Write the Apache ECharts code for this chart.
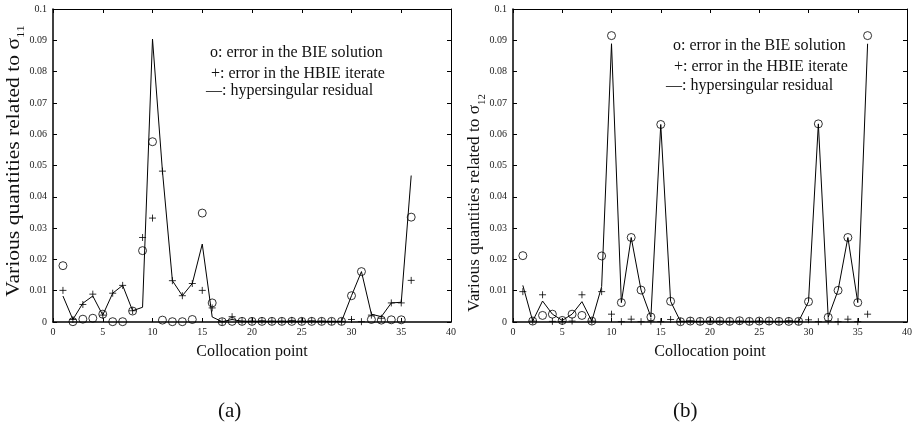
<html>
<head>
<meta charset="utf-8">
<title>ECharts</title>
</head>
<body style="margin:0">
<div id="main" style="width: 915px;height:431px;"></div>
<script src="https://cdn.jsdelivr.net/npm/echarts@6/dist/echarts.min.js"></script>
<script>
// collocation points 1..36
var points = [1,2,3,4,5,6,7,8,9,10,11,12,13,14,15,16,17,18,19,20,21,22,23,24,25,26,27,28,29,30,31,32,33,34,35,36];

// (a) sigma_11
var bie11 = [0.0180, 0.0001, 0.0009, 0.0012, 0.0025, 0.0001, 0.0001, 0.0035, 0.0228, 0.0576, 0.0006, 0.0001, 0.0001, 0.0008, 0.0348, 0.0061, 0.0001, 0.0002, 0.0002, 0.0002, 0.0002, 0.0002, 0.0002, 0.0002, 0.0002, 0.0002, 0.0002, 0.0002, 0.0002, 0.0084, 0.0161, 0.0008, 0.0006, 0.0007, 0.0007, 0.0335];
var hbie11 = [0.0101, 0.0008, 0.0056, 0.0089, 0.0022, 0.0092, 0.0117, 0.0036, 0.0270, 0.0332, 0.0482, 0.0132, 0.0084, 0.0123, 0.0101, 0.0045, 0.0001, 0.0017, 0.0003, 0.0003, 0.0004, 0.0003, 0.0003, 0.0005, 0.0003, 0.0004, 0.0003, 0.0002, 0.0002, 0.0008, 0.0001, 0.0022, 0.0012, 0.0061, 0.0061, 0.0133];
var res11 = [0.0083, 0.0008, 0.0060, 0.0083, 0.0022, 0.0092, 0.0117, 0.0036, 0.0047, 0.0904, 0.0482, 0.0132, 0.0084, 0.0123, 0.0249, 0.0016, 0.0001, 0.0008, 0.0002, 0.0002, 0.0002, 0.0002, 0.0002, 0.0002, 0.0002, 0.0002, 0.0002, 0.0002, 0.0002, 0.0084, 0.0161, 0.0025, 0.0017, 0.0061, 0.0063, 0.0468];

// (b) sigma_12
var bie12 = [0.0212, 0.0003, 0.0021, 0.0025, 0.0005, 0.0025, 0.0021, 0.0003, 0.0211, 0.0915, 0.0062, 0.0270, 0.0102, 0.0016, 0.0631, 0.0066, 0.0001, 0.0003, 0.0002, 0.0004, 0.0003, 0.0002, 0.0004, 0.0002, 0.0003, 0.0003, 0.0002, 0.0002, 0.0002, 0.0065, 0.0633, 0.0015, 0.0101, 0.0270, 0.0062, 0.0915];
var hbie12 = [0.0097, 0.0003, 0.0087, 0.0002, 0.0002, 0.0003, 0.0087, 0.0003, 0.0097, 0.0025, 0.0001, 0.0009, 0.0001, 0.0003, 0.0001, 0.0008, 0.0002, 0.0004, 0.0002, 0.0003, 0.0003, 0.0002, 0.0003, 0.0002, 0.0003, 0.0002, 0.0002, 0.0004, 0.0002, 0.0007, 0.0001, 0.0003, 0.0001, 0.0009, 0.0001, 0.0025];
var res12 = [0.0117, 0.0003, 0.0067, 0.0025, 0.0005, 0.0025, 0.0065, 0.0003, 0.0113, 0.0889, 0.0062, 0.0270, 0.0102, 0.0016, 0.0631, 0.0066, 0.0002, 0.0002, 0.0002, 0.0002, 0.0002, 0.0002, 0.0002, 0.0002, 0.0002, 0.0002, 0.0002, 0.0002, 0.0002, 0.0065, 0.0633, 0.0015, 0.0101, 0.0270, 0.0062, 0.0889];

var xTicks = {min: 0, max: 40, interval: 5};
var yTicks = {min: 0, max: 0.1, interval: 0.01};

var serif = "'Liberation Serif', 'Times New Roman', serif";
var plus = 'path://M0,-1L0,1M-1,0L1,0';

function pairs(ys) {
	return points.map(function (x, i) { return [x, ys[i]]; });
}

function xAxes(gi) {
	var base = {
		type: 'value', gridIndex: gi, min: xTicks.min, max: xTicks.max, interval: xTicks.interval,
		splitLine: {show: false},
		axisTick: {inside: true, length: 4, lineStyle: {color: '#000'}}
	};
	return [
		Object.assign({}, base, {
			position: 'bottom',
			axisLine: {onZero: false, lineStyle: {color: '#000', width: 1.5}},
			axisLabel: {fontFamily: serif, fontSize: 10, color: '#222', margin: 5},
			name: 'Collocation point', nameLocation: 'middle', nameGap: 22,
			nameTextStyle: {fontFamily: serif, fontSize: 16, color: '#111'}
		}),
		Object.assign({}, base, {
			position: 'top',
			axisLine: {onZero: false, lineStyle: {color: '#000', width: 1}},
			axisLabel: {show: false}
		})
	];
}

function yAxes(gi) {
	var base = {
		type: 'value', gridIndex: gi, min: yTicks.min, max: yTicks.max, interval: yTicks.interval,
		splitLine: {show: false},
		axisTick: {inside: true, length: 4, lineStyle: {color: '#000'}}
	};
	return [
		Object.assign({}, base, {
			position: 'left',
			axisLine: {onZero: false, lineStyle: {color: '#000', width: 1.5}},
			axisLabel: {
				fontFamily: serif, fontSize: 10, color: '#222', margin: 6,
				formatter: function (v) { return String(+v.toFixed(2)); }
			}
		}),
		Object.assign({}, base, {
			position: 'right',
			axisLine: {onZero: false, lineStyle: {color: '#000', width: 1}},
			axisLabel: {show: false}
		})
	];
}

function panel(gi, bie, hbie, res) {
	var xi = gi * 2, yi = gi * 2;
	return [
		{
			type: 'line', xAxisIndex: xi, yAxisIndex: yi, data: pairs(res),
			showSymbol: false, lineStyle: {color: '#000', width: 1}, z: 2
		},
		{
			type: 'scatter', xAxisIndex: xi, yAxisIndex: yi, data: pairs(bie),
			symbol: 'circle', symbolSize: 8,
			itemStyle: {color: 'rgba(0,0,0,0)', borderColor: '#000', borderWidth: 1}, z: 3
		},
		{
			type: 'scatter', xAxisIndex: xi, yAxisIndex: yi, data: pairs(hbie),
			symbol: plus, symbolSize: 7,
			itemStyle: {color: 'rgba(0,0,0,0)', borderColor: '#000', borderWidth: 1}, z: 3
		}
	];
}

function legendText(x, y, txt) {
	return {
		type: 'text', left: x, top: y,
		style: {text: txt, fontFamily: serif, fontSize: 16, fill: '#111'}
	};
}

// rotated axis title, stretched along its length like the printed figure
function yTitle(cx, cy, size, stretch, sub) {
	return {
		type: 'text', x: cx, y: cy, rotation: Math.PI / 2, scaleX: stretch,
		style: {
			text: '{m|Various quantities related to σ}{s|' + sub + '}',
			align: 'center', verticalAlign: 'middle',
			rich: {
				m: {fontFamily: serif, fontSize: size, fill: '#111', lineHeight: size + 8},
				s: {fontFamily: serif, fontSize: Math.round(size * 0.6), fill: '#111', verticalAlign: 'bottom', lineHeight: Math.round(size * 0.6)}
			}
		}
	};
}

var chart = echarts.init(document.getElementById('main'));

var option = {
	animation: false,
	backgroundColor: '#fff',
	grid: [
		{left: 53, right: 464, top: 9, bottom: 109},
		{left: 513, right: 7, top: 9, bottom: 109}
	],
	xAxis: xAxes(0).concat(xAxes(1)),
	yAxis: yAxes(0).concat(yAxes(1)),
	series: panel(0, bie11, hbie11, res11).concat(panel(1, bie12, hbie12, res12)),
	graphic: [
		legendText(210, 45, 'o: error in the BIE solution'),
		legendText(211, 66, '+: error in the HBIE iterate'),
		legendText(206, 83, '—: hypersingular residual'),
		legendText(673, 38, 'o: error in the BIE solution'),
		legendText(674, 59, '+: error in the HBIE iterate'),
		legendText(666, 78, '—: hypersingular residual'),
		yTitle(14, 161, 18, 1.2, '11'),
		yTitle(475, 203, 16, 1.08, '12'),
		{type: 'text', left: 218, top: 401, style: {text: '(a)', fontFamily: serif, fontSize: 21, fill: '#111'}},
		{type: 'text', left: 673, top: 401, style: {text: '(b)', fontFamily: serif, fontSize: 21, fill: '#111'}}
	]
};

chart.setOption(option);
</script>
</body>
</html>
